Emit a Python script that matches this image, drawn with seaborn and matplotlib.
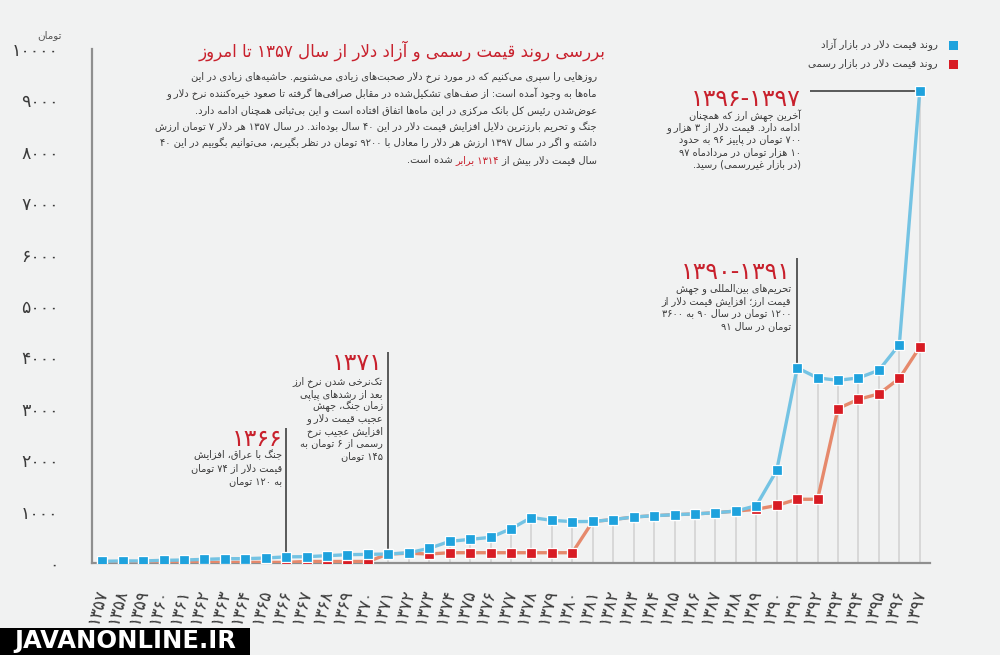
import re
import numpy as np
import pandas as pd
import matplotlib
matplotlib.use("Agg")
import matplotlib.pyplot as plt
from matplotlib import font_manager, ft2font
from matplotlib.patches import Rectangle
import seaborn as sns

# ---------------- data ----------------
years = list(range(1357, 1398))
free_market = [33, 40, 40, 52, 58, 71, 84, 84, 97, 120,
               123, 142, 162, 168, 175, 200, 285, 421, 460, 499,
               666, 885, 830, 805, 808, 845, 895, 920, 940, 955,
               978, 1010, 1115, 1800, 3800, 3600, 3555, 3600, 3750, 4250,
               9190]
official = [8, 8, 8, 8, 8, 12, 12, 12, 12, 12,
            30, 30, 30, 30, 175, 190, 175, 200, 200, 200,
            200, 200, 200, 200, 808, 845, 895, 920, 940, 955,
            978, 1010, 1045, 1120, 1240, 1240, 3005, 3185, 3290, 3590,
            4200]
y_ticks = list(range(0, 10001, 1000))

title = "بررسی روند قیمت رسمی و آزاد دلار از سال ۱۳۵۷ تا امروز"
body_lines = [
    "روزهایی را سپری می|کنیم که در مورد نرخ دلار صحبت|های زیادی می|شنویم. حاشیه|های زیادی در این",
    "ماه|ها به وجود آمده است: از صف|های تشکیل|شده در مقابل صرافی|ها گرفته تا صعود خیره|کننده نرخ دلار و",
    "عوض|شدن رئیس کل بانک مرکزی در این ماه|ها اتفاق افتاده است و این بی|ثباتی همچنان ادامه دارد.",
    "جنگ و تحریم بارزترین دلایل افزایش قیمت دلار در این ۴۰ سال بوده|اند. در سال ۱۳۵۷ هر دلار ۷ تومان ارزش",
    "داشته و اگر در سال ۱۳۹۷ ارزش هر دلار را معادل با ۹۲۰۰ تومان در نظر بگیریم، می|توانیم بگوییم در این ۴۰",
]
last_line = ["سال قیمت دلار بیش از ", "۱۳۱۴ برابر", " شده است."]
legend_labels = ["روند قیمت دلار در بازار آزاد", "روند قیمت دلار در بازار رسمی"]
unit_label = "تومان"

ann_1366_head = "۱۳۶۶"
ann_1366 = ["جنگ با عراق، افزایش", "قیمت دلار از ۷۴ تومان", "به ۱۲۰ تومان"]
ann_1371_head = "۱۳۷۱"
ann_1371 = ["تک|نرخی شدن نرخ ارز", "بعد از رشدهای پیاپی", "زمان جنگ، جهش",
            "عجیب قیمت دلار و", "افزایش عجیب نرخ", "رسمی از ۶ تومان به", "۱۴۵ تومان"]
ann_1391_head = "۱۳۹۰-۱۳۹۱"
ann_1391 = ["تحریم|های بین|المللی و جهش", "قیمت ارز؛ افزایش قیمت دلار از",
            "۱۲۰۰ تومان در سال ۹۰ به ۳۶۰۰", "تومان در سال ۹۱"]
ann_1397_head = "۱۳۹۶-۱۳۹۷"
ann_1397 = ["آخرین جهش ارز که همچنان", "ادامه دارد. قیمت دلار از ۳ هزار و",
            "۷۰۰ تومان در پاییز ۹۶ به حدود", "۱۰ هزار تومان در مردادماه ۹۷",
            "(در بازار غیررسمی) رسید."]
watermark = "JAVANONLINE.IR"

# ---------------- Persian shaping (matplotlib has no bidi / shaping) ----------------
_fp = font_manager.findfont(font_manager.FontProperties(family="DejaVu Sans"))
CMAP = set(ft2font.FT2Font(_fp).get_charmap().keys())

FORMS = {
    "\u0627": (0xFE8D, 0xFE8E, None, None), "\u0622": (0xFE81, 0xFE82, None, None),
    "\u0623": (0xFE83, 0xFE84, None, None), "\u0628": (0xFE8F, 0xFE90, 0xFE91, 0xFE92),
    "\u067E": (0xFB56, 0xFB57, 0xFB58, 0xFB59), "\u062A": (0xFE95, 0xFE96, 0xFE97, 0xFE98),
    "\u062B": (0xFE99, 0xFE9A, 0xFE9B, 0xFE9C), "\u062C": (0xFE9D, 0xFE9E, 0xFE9F, 0xFEA0),
    "\u0686": (0xFB7A, 0xFB7B, 0xFB7C, 0xFB7D), "\u062D": (0xFEA1, 0xFEA2, 0xFEA3, 0xFEA4),
    "\u062E": (0xFEA5, 0xFEA6, 0xFEA7, 0xFEA8), "\u062F": (0xFEA9, 0xFEAA, None, None),
    "\u0630": (0xFEAB, 0xFEAC, None, None), "\u0631": (0xFEAD, 0xFEAE, None, None),
    "\u0632": (0xFEAF, 0xFEB0, None, None), "\u0698": (0xFB8A, 0xFB8B, None, None),
    "\u0633": (0xFEB1, 0xFEB2, 0xFEB3, 0xFEB4), "\u0634": (0xFEB5, 0xFEB6, 0xFEB7, 0xFEB8),
    "\u0635": (0xFEB9, 0xFEBA, 0xFEBB, 0xFEBC), "\u0636": (0xFEBD, 0xFEBE, 0xFEBF, 0xFEC0),
    "\u0637": (0xFEC1, 0xFEC2, 0xFEC3, 0xFEC4), "\u0638": (0xFEC5, 0xFEC6, 0xFEC7, 0xFEC8),
    "\u0639": (0xFEC9, 0xFECA, 0xFECB, 0xFECC), "\u063A": (0xFECD, 0xFECE, 0xFECF, 0xFED0),
    "\u0641": (0xFED1, 0xFED2, 0xFED3, 0xFED4), "\u0642": (0xFED5, 0xFED6, 0xFED7, 0xFED8),
    "\u06A9": (0xFB8E, 0xFB8F, 0xFB90, 0xFB91), "\u0643": (0xFED9, 0xFEDA, 0xFEDB, 0xFEDC),
    "\u06AF": (0xFB92, 0xFB93, 0xFB94, 0xFB95), "\u0644": (0xFEDD, 0xFEDE, 0xFEDF, 0xFEE0),
    "\u0645": (0xFEE1, 0xFEE2, 0xFEE3, 0xFEE4), "\u0646": (0xFEE5, 0xFEE6, 0xFEE7, 0xFEE8),
    "\u0648": (0xFEED, 0xFEEE, None, None), "\u0647": (0xFEE9, 0xFEEA, 0xFEEB, 0xFEEC),
    "\u06CC": (0xFBFC, 0xFBFD, 0xFBFE, 0xFBFF), "\u064A": (0xFEF1, 0xFEF2, 0xFEF3, 0xFEF4),
    "\u0626": (0xFE89, 0xFE8A, 0xFE8B, 0xFE8C), "\u0621": (0xFE80, None, None, None),
}
ALT = {}
for a, b in zip(range(0xFB8E, 0xFB92), range(0xFED9, 0xFEDD)):
    ALT[a] = b
for a, b in zip(range(0xFB92, 0xFB96), range(0xFED9, 0xFEDD)):
    ALT[a] = b
for a, b in zip(range(0xFB56, 0xFB5A), range(0xFE8F, 0xFE93)):
    ALT[a] = b
for a, b in zip(range(0xFB7A, 0xFB7E), range(0xFE9D, 0xFEA1)):
    ALT[a] = b
ALT.update({0xFB8A: 0xFEAF, 0xFB8B: 0xFEB0, 0xFBFC: 0xFEEF, 0xFBFD: 0xFEF0,
            0xFBFE: 0xFEF3, 0xFBFF: 0xFEF4})
LAMALEF = {"\u0627": (0xFEFB, 0xFEFC), "\u0622": (0xFEF5, 0xFEF6), "\u0623": (0xFEF7, 0xFEF8)}


def _glyph(cp, base):
    if cp in CMAP:
        return chr(cp)
    if cp in ALT and ALT[cp] in CMAP:
        return chr(ALT[cp])
    return base


def shape(text):
    chars = list(text.replace("|", "\u200c"))
    n = len(chars)
    out = []
    i = 0
    while i < n:
        c = chars[i]
        if c not in FORMS:
            if c != "\u200c":
                out.append(c)
            i += 1
            continue
        prev = chars[i - 1] if i > 0 else None
        prev_joins = prev in FORMS and FORMS[prev][2] is not None
        if c == "\u0644" and i + 1 < n and chars[i + 1] in LAMALEF:
            iso, fin = LAMALEF[chars[i + 1]]
            out.append(_glyph(fin if prev_joins else iso, c + chars[i + 1]))
            i += 2
            continue
        nxt = chars[i + 1] if i + 1 < n else None
        f = FORMS[c]
        next_joins = (f[2] is not None and nxt in FORMS and FORMS[nxt][1] is not None)
        if prev_joins and next_joins:
            cp = f[3]
        elif prev_joins:
            cp = f[1] if f[1] else f[0]
        elif next_joins:
            cp = f[2]
        else:
            cp = f[0]
        out.append(_glyph(cp, c))
        i += 1
    return "".join(out)


MIRROR = str.maketrans("()", ")(")
DIG = "۰۱۲۳۴۵۶۷۸۹"


def fa(text):
    s = shape(text)
    runs = re.findall(r"[%s]+|[^%s]+" % (DIG, DIG), s)
    out = []
    for r in reversed(runs):
        if r[0] in DIG:
            out.append(r)
        else:
            out.append(r[::-1].translate(MIRROR))
    return "".join(out)


def fa_num(v):
    return str(v).translate(str.maketrans("0123456789", DIG))


# ---------------- style ----------------
BG = "#f1f2f2"
BLUE_LINE = "#74c3e3"
BLUE_MK = "#1ea2dd"
RED_LINE = "#e6896c"
RED_MK = "#d81c24"
TITLE_RED = "#c8202c"
AXIS_GRAY = "#8f8f8f"
TEXT = "#3b3b3b"

sns.set_style("white", {"axes.facecolor": BG, "figure.facecolor": BG})
plt.rcParams["font.family"] = ["DejaVu Sans"]

W, H = 1000, 655
fig = plt.figure(figsize=(10, 6.55), dpi=100)
fig.patch.set_facecolor(BG)


def fx(x):
    return x / W


def fy(y):
    return 1 - y / H


ax = fig.add_axes([fx(92), fy(563), (930 - 92) / W, (563 - 49) / H])
ax.set_facecolor(BG)

df = pd.DataFrame({"idx": np.arange(len(years)), "year": years,
                   "free": free_market, "official": official})

# drop lines
ax.vlines(df["idx"], 0, np.maximum(df["free"], df["official"]), color="#d6d6d6", lw=1.3, zorder=1)

sns.lineplot(data=df, x="idx", y="official", ax=ax, color=RED_LINE, lw=2.4,
             marker="s", markersize=7.2, markerfacecolor=RED_MK,
             markeredgecolor="white", markeredgewidth=0.9, zorder=3)
sns.lineplot(data=df, x="idx", y="free", ax=ax, color=BLUE_LINE, lw=2.4,
             marker="s", markersize=7.2, markerfacecolor=BLUE_MK,
             markeredgecolor="white", markeredgewidth=0.9, zorder=4)
for ln, mc in zip(ax.lines[-2:], [RED_MK, BLUE_MK]):
    ln.set_markerfacecolor(mc)
    ln.set_markeredgecolor("white")

ax.set_xlim(-0.5, 40.5)
ax.set_ylim(0, 10000)
ax.set_xlabel("")
ax.set_ylabel("")
for s in ["top", "right"]:
    ax.spines[s].set_visible(False)
for s in ["left", "bottom"]:
    ax.spines[s].set_color(AXIS_GRAY)
    ax.spines[s].set_linewidth(1.6)

ax.set_yticks(y_ticks)
ax.set_yticklabels([fa_num(v) for v in y_ticks])
ax.tick_params(axis="y", length=16, width=1.4, color=AXIS_GRAY, pad=8,
               labelsize=12.5, labelcolor=TEXT)

ax.set_xticks(df["idx"])
ax.set_xticklabels([fa_num(y) for y in years])
ax.set_xticks(np.arange(-0.5, 41, 1), minor=True)
ax.tick_params(axis="x", which="major", length=0, pad=19, labelsize=12, labelcolor=TEXT)
ax.tick_params(axis="x", which="minor", length=10, width=1.4, color=AXIS_GRAY)
for lab in ax.get_xticklabels():
    lab.set_rotation(75)
    lab.set_ha("right")
    lab.set_va("center")
    lab.set_rotation_mode("anchor")

fig.text(fx(62), fy(35), fa(unit_label), ha="right", va="center", fontsize=7.5, color="#555555")

# annotation lines
ANN = "#4d4d4d"
ax.vlines(9, free_market[9], 2620, color=ANN, lw=1.3, zorder=2, clip_on=False)
ax.vlines(14, free_market[14], 4100, color=ANN, lw=1.3, zorder=2, clip_on=False)
ax.vlines(34, free_market[34], 5930, color=ANN, lw=1.3, zorder=2, clip_on=False)
ax.hlines(free_market[40], 34.65, 40, color=ANN, lw=1.3, zorder=2, clip_on=False)


def block(x_right, y_head, head, lines, y0, dy, head_size=17, size=7.0):
    fig.text(fx(x_right), fy(y_head), head, ha="right", va="baseline",
             fontsize=head_size, color=TITLE_RED)
    for k, t in enumerate(lines):
        fig.text(fx(x_right), fy(y0 + k * dy), fa(t), ha="right", va="center",
                 fontsize=size, color=TEXT)


block(282, 446, ann_1366_head, ann_1366, 455, 13)
block(383, 370, ann_1371_head, ann_1371, 382, 12.3)
block(791, 279, ann_1391_head, ann_1391, 289, 12.2)
block(801, 106, ann_1397_head, ann_1397, 116, 12.0)

# title and paragraph
fig.text(fx(606), fy(51), fa(title), ha="right", va="center", fontsize=12, color=TITLE_RED)
BODY = 7.15
for k, t in enumerate(body_lines):
    fig.text(fx(597), fy(77 + k * 16.6), fa(t), ha="right", va="center", fontsize=BODY, color=TEXT)

# legend
for k, (lab, mc) in enumerate(zip(legend_labels, [BLUE_MK, RED_MK])):
    yy = 45 + k * 19
    fig.patches.append(Rectangle((fx(949), fy(yy + 4.5)), 9 / W, 9 / H,
                                 transform=fig.transFigure, facecolor=mc, edgecolor="none"))
    fig.text(fx(938), fy(yy), fa(lab), ha="right", va="center", fontsize=7.4, color=TEXT)

# watermark
fig.patches.append(Rectangle((0, 0), 250 / W, 27 / H, transform=fig.transFigure,
                             facecolor="black", edgecolor="none"))
fig.text(fx(125), fy(641), watermark, ha="center", va="center", fontsize=17.5,
         fontweight="bold", color="white", family="DejaVu Sans")

# last paragraph line with red highlight, laid out right-to-left
fig.canvas.draw()
r = fig.canvas.get_renderer()
x_cur = 597
for seg, col in zip(last_line, [TEXT, TITLE_RED, TEXT]):
    t = fig.text(fx(x_cur), fy(77 + 5 * 16.6), fa(seg), ha="right", va="center",
                 fontsize=BODY, color=col)
    bb = t.get_window_extent(renderer=r)
    x_cur -= bb.width

fig.savefig("out.png", dpi=100, facecolor=BG)
